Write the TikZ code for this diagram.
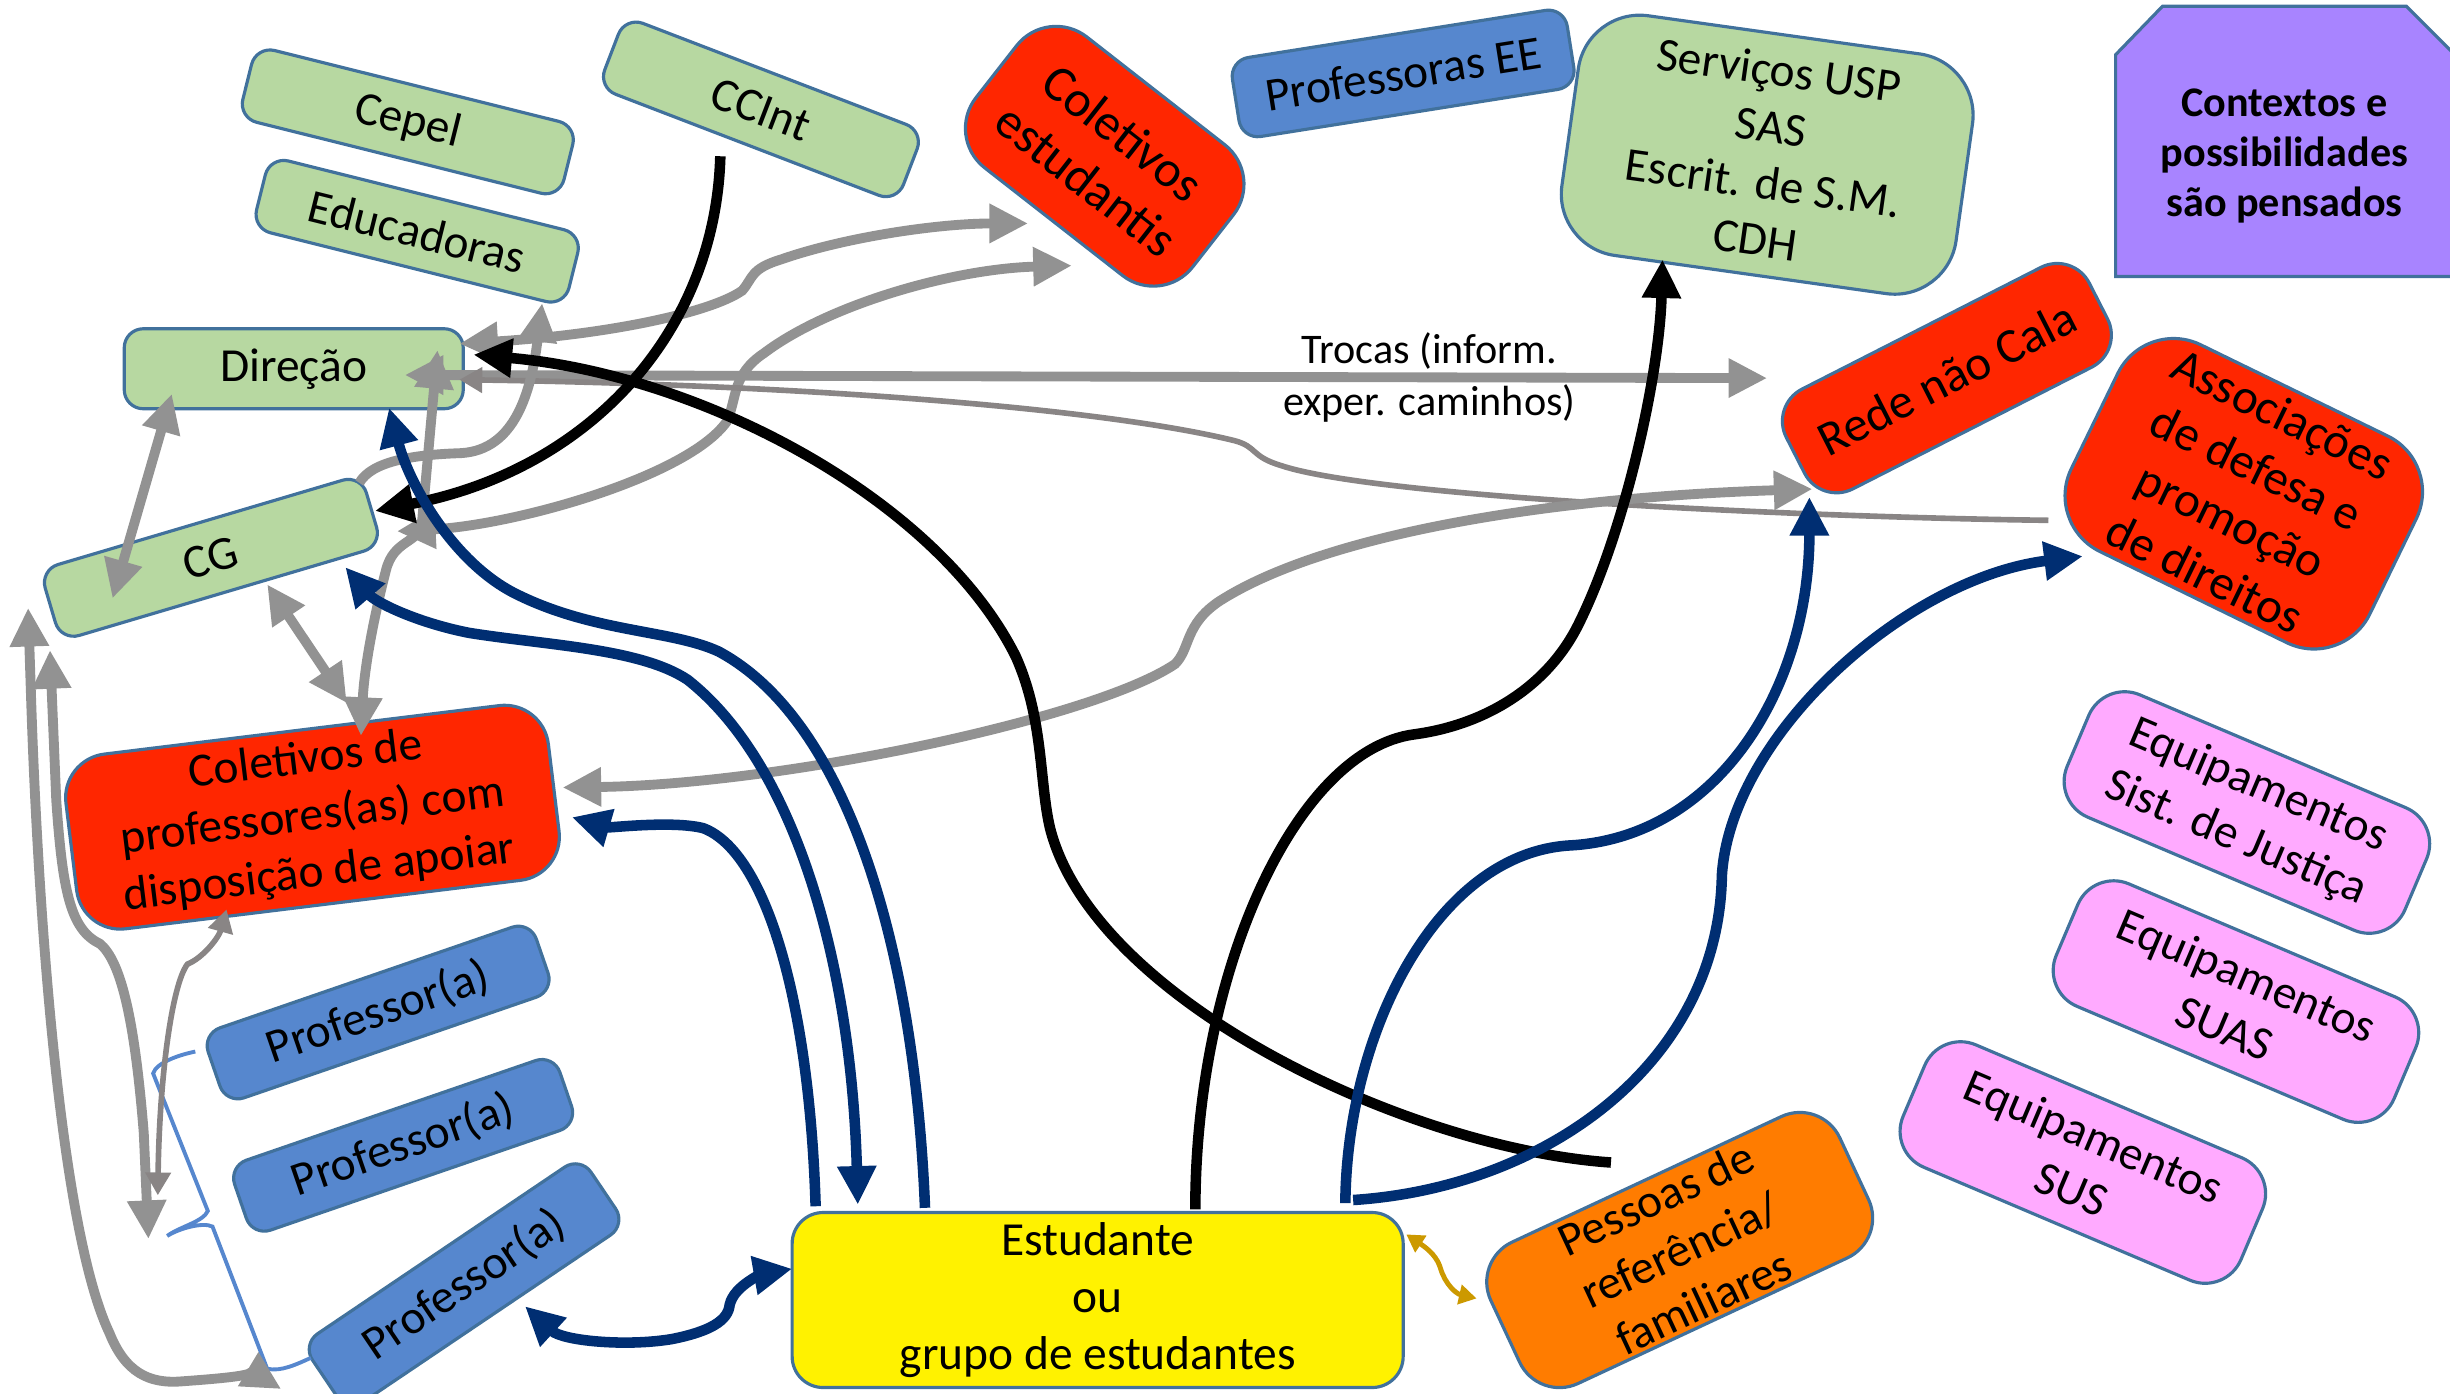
\documentclass[tikz,border=0pt]{standalone}
\usepackage{fontspec}
\setmainfont{Carlito}
\usetikzlibrary{arrows.meta,calc}

\definecolor{boxgreen}{RGB}{183,216,161}
\definecolor{boxedge}{RGB}{65,113,156}
\definecolor{boxred}{RGB}{255,38,0}
\definecolor{boxblue}{RGB}{86,135,206}
\definecolor{boxorange}{RGB}{255,124,0}
\definecolor{boxpink}{RGB}{255,170,255}
\definecolor{boxpurple}{RGB}{168,132,255}
\definecolor{linegray}{RGB}{146,146,146}
\definecolor{thingray}{RGB}{137,133,133}
\definecolor{lineblue}{RGB}{0,46,114}
\definecolor{linegold}{RGB}{204,153,0}

\tikzset{
  box/.style={draw=boxedge, line width=0.9pt, inner sep=0pt, align=center,
    font=\fontsize{13.5}{16.2}\selectfont},
  greenbox/.style={box, fill=boxgreen, rounded corners=0.19cm},
  bluebox/.style={box, fill=boxblue, rounded corners=0.19cm},
  redbox/.style={box, fill=boxred},
  pinkbox/.style={box, fill=boxpink, rounded corners=0.39cm,
    minimum width=3.67cm, minimum height=1.33cm},
  gline/.style={draw=linegray, line width=2.8pt},
  tline/.style={draw=thingray, line width=1.6pt},
  kline/.style={draw=black, line width=3pt},
  bline/.style={draw=lineblue, line width=3pt},
  braceline/.style={draw=boxblue, line width=1.1pt},
  garrow/.style={-{Triangle[length=11pt,width=10.5pt]}},
  gboth/.style={{Triangle[length=11pt,width=10.5pt]}-{Triangle[length=11pt,width=10.5pt]}},
  tarrow/.style={-{Triangle[length=6.5pt,width=7pt]}},
  tboth/.style={{Triangle[length=6.5pt,width=7pt]}-{Triangle[length=6.5pt,width=7pt]}},
  yboth/.style={{Triangle[length=5pt,width=5.5pt]}-{Triangle[length=5pt,width=5.5pt]}},
  trocas/.style={inner sep=0pt, align=center, font=\fontsize{12}{14.6}\selectfont}
}

\begin{document}
\begin{tikzpicture}[x=0.015625cm, y=-0.015625cm]
  \useasboundingbox (0,0) rectangle (1568,892);

  % escola
  \node [greenbox, rotate=-14, minimum width=3.31cm, minimum height=0.74cm] (cepel) at (261,78) {Cepel};
  \node [greenbox, rotate=-14, minimum width=3.22cm, minimum height=0.74cm] (educ) at (267,148) {Educadoras};
  \node [greenbox, rotate=-21, minimum width=3.2cm, minimum height=0.76cm] (ccint) at (487,70) {CCInt};
  \node [greenbox, minimum width=3.39cm, minimum height=0.8cm] (direcao) at (188,236) {Direção};
  \node [greenbox, rotate=16.5, minimum width=3.35cm, minimum height=0.74cm] (cg) at (135,357) {CG};
  \node [redbox, rotate=-38, minimum width=2.75cm, minimum height=1.66cm, rounded corners=0.5cm, font=\fontsize{14.5}{17}\selectfont] (colest) at (707,100) {Coletivos\\estudantis};
  \node [bluebox, rotate=9, minimum width=3.39cm, minimum height=0.8cm] (profee) at (898,47) {Professoras EE};
  \node [greenbox, rotate=-8, minimum width=3.98cm, minimum height=2.42cm, rounded corners=0.62cm] (servicos) at (1131,99) {Serviços USP\\SAS\\Escrit. de S.M.\\CDH};

  % legenda
  \draw [draw=boxedge, line width=0.9pt, fill=boxpurple] (1354,177) -- (1354,35) -- (1384,4) -- (1540,4) -- (1572,36) -- (1572,177) -- cycle;
  \node [inner sep=0pt, align=center, font=\bfseries\fontsize{12}{14.2}\selectfont] (contextos) at (1462,100) {Contextos e\\possibilidades\\são pensados};

  \node [redbox, rotate=27, minimum width=3.4cm, minimum height=1.12cm, rounded corners=0.36cm, font=\fontsize{14}{16.8}\selectfont] (rede) at (1246,242) {Rede não Cala};
  \node [redbox, rotate=-26, minimum width=3.32cm, minimum height=2.3cm, rounded corners=0.62cm, font=\fontsize{14}{16.8}\selectfont] (assoc) at (1436,316) {Associações\\de defesa e\\promoção\\de direitos};
  \node [redbox, rotate=7, minimum width=4.86cm, minimum height=1.76cm, rounded corners=0.44cm] (colprof) at (200,523) {Coletivos de\\professores(as) com\\disposição de apoiar};

  \node [bluebox, rotate=19, minimum width=3.47cm, minimum height=0.74cm] (prof1) at (242,648) {Professor(a)};
  \node [bluebox, rotate=19, minimum width=3.44cm, minimum height=0.74cm] (prof2) at (258,733) {Professor(a)};
  \node [bluebox, rotate=34, minimum width=3.36cm, minimum height=0.82cm] (prof3) at (297,822) {Professor(a)};

  \node [box, fill=yellow, minimum width=6.11cm, minimum height=1.75cm, rounded corners=0.31cm] (estud) at (702.5,832) {Estudante\\ou\\grupo de estudantes};
  \node [box, fill=boxorange, rotate=25, minimum width=3.85cm, minimum height=1.56cm, rounded corners=0.44cm] (pessoas) at (1075,800) {Pessoas de\\referência/\\familiares};

  \node [pinkbox, rotate=-23] (eqjus) at (1438,520) {Equipamentos\\Sist. de Justiça};
  \node [pinkbox, rotate=-23] (eqsuas) at (1431,641) {Equipamentos\\SUAS};
  \node [pinkbox, rotate=-23] (eqsus) at (1333,744) {Equipamentos\\SUS};

  % setas cinza
  \draw [gline, gboth] ($(direcao)+(106,-16)$) .. controls (390,214) and (455,200) .. (475,186) .. controls (482,178) and (480,172) .. (500,166) .. controls (540,152) and (600,143) .. ($(colest)+(-49,43)$);
  \draw [gline, gboth] ($(cg)+(119,-17)$) .. controls (330,336) and (440,305) .. (465,270) .. controls (472,255) and (468,240) .. (489,226) .. controls (530,195) and (610,172) .. ($(colest)+(-21,70)$);
  \draw [gline, gboth] ($(direcao)+(71,4)$) -- node [trocas, pos=0.752] (trocas) {Trocas (inform.\\exper. caminhos)} ($(rede)+(-115,0)$);
  \draw [tline, tarrow] ($(assoc)+(-125,17)$) .. controls (1150,331) and (880,318) .. (820,298) .. controls (800,292) and (805,286) .. (790,282) .. controls (700,260) and (500,246) .. ($(direcao)+(106,7)$);
  \draw [gline, gboth] ($(colprof)+(160,-19)$) .. controls (500,502) and (700,460) .. (752,425) .. controls (762,415) and (758,400) .. (780,385) .. controls (850,340) and (1000,318) .. ($(rede)+(-86,71)$);
  \draw [gline, gboth] ($(direcao)+(-78,16)$) -- ($(cg)+(-63,26)$);
  \draw [gline, gboth] ($(cg)+(36,17)$) -- ($(colprof)+(22,-73)$);
  \draw [gline, garrow] ($(cg)+(95,-48)$) .. controls (238,295) and (265,291) .. (295,290) .. controls (330,288) and (340,250) .. ($(educ)+(80,46)$);
  \draw [gline, gboth] ($(direcao)+(92,-12)$) -- (270,335) .. controls (268,348) and (252,345) .. (247,365) .. controls (238,400) and (233,430) .. ($(colprof)+(31,-52)$);

  % chave dos professores
  \coordinate (braceL) at (107,791);
  \draw [braceline] ($(prof1)+(-117,25)$) .. controls (115,675) and (100,680) .. (98,687) -- (133,775) .. controls (130,782) and (115,785) .. (braceL) .. controls (115,786) and (130,782) .. (136,785) -- (171,876) .. controls (180,878) and (190,873) .. ($(prof3)+(-98,47)$);
  \draw [gline, gboth] ($(cg)+(-117,32)$) -- (20,450) .. controls (25,600) and (40,790) .. (70,853) .. controls (80,878) and (95,886) .. (117,884) .. controls (145,882) and (165,880) .. ($(prof3)+(-117,67)$);
  \draw [gline, gboth] ($(cg)+(-103,59)$) -- (36,512) .. controls (40,570) and (45,595) .. (64,604) .. controls (77,615) and (86,650) .. (92,725) -- ($(braceL)+(-12,2)$);
  \draw [tline, tboth] ($(colprof)+(-55,59)$) .. controls (140,600) and (130,613) .. (120,617) .. controls (110,630) and (102,690) .. ($(braceL)+(-6,-26)$);

  % setas pretas
  \draw [kline, garrow] ($(ccint)+(-26,30)$) .. controls (458,210) and (380,300) .. ($(cg)+(105,-30)$);
  \draw [kline, garrow] ($(pessoas)+(-44,-56)$) .. controls (900,735) and (700,640) .. (672,530) .. controls (665,500) and (668,460) .. (650,420) .. controls (600,320) and (450,240) .. ($(direcao)+(115,-9)$);
  \draw [kline, garrow] ($(estud)+(62.5,-58)$) .. controls (765,620) and (830,480) .. (905,470) .. controls (950,464) and (990,440) .. (1010,400) .. controls (1040,340) and (1062,240) .. ($(servicos)+(-67,67)$);

  % setas azuis
  \draw [bline, garrow] ($(estud)+(-110.5,-59)$) .. controls (585,600) and (540,460) .. (460,417) .. controls (430,403) and (380,405) .. (330,380) .. controls (290,360) and (262,310) .. ($(direcao)+(61,25)$);
  \draw [bline, gboth] ($(estud)+(-153.5,-61)$) .. controls (545,620) and (510,490) .. (440,435) .. controls (410,415) and (350,413) .. (300,405) .. controls (265,398) and (240,385) .. ($(cg)+(86,6)$);
  \draw [bline, garrow] ($(estud)+(-180.5,-60)$) .. controls (518,640) and (490,545) .. (450,530) .. controls (430,525) and (390,530) .. ($(colprof)+(166,0)$);
  \draw [bline, garrow] ($(estud)+(158.5,-62)$) .. controls (862,660) and (920,545) .. (1006,541) .. controls (1100,535) and (1158,440) .. ($(rede)+(-88,76)$);
  \draw [bline, garrow] ($(estud)+(163.5,-64)$) .. controls (990,760) and (1100,680) .. (1102,560) .. controls (1108,470) and (1220,370) .. ($(assoc)+(-103,40)$);
  \draw [bline, gboth] ($(prof3)+(39,14)$) .. controls (360,858) and (400,862) .. (430,857) .. controls (455,852) and (466,845) .. (467,835) .. controls (470,822) and (490,815) .. ($(estud)+(-195.5,-20)$);

  \draw [draw=linegold, line width=1.4pt, yboth] ($(estud)+(197.5,-42)$) .. controls (915,800) and (920,805) .. (922,812) .. controls (925,822) and (932,828) .. ($(pessoas)+(-130,31)$);
\end{tikzpicture}
\end{document}
